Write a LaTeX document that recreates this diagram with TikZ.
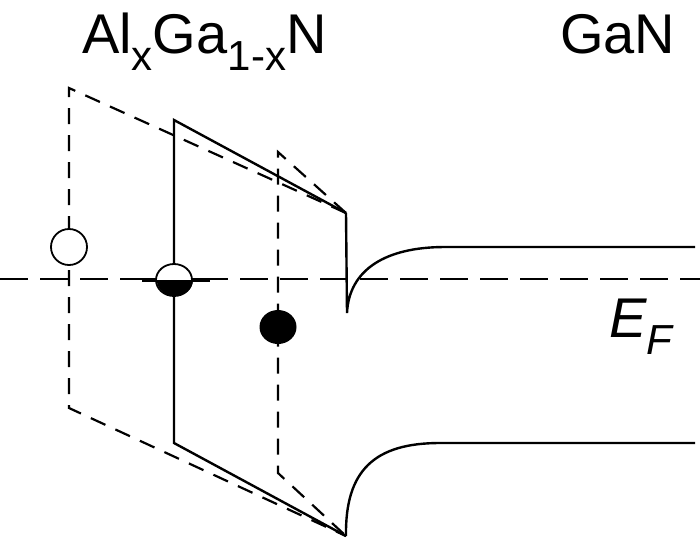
\documentclass[tikz,border=0pt]{standalone}
\usepackage{fontspec}
\setmainfont{Liberation Sans}
\usetikzlibrary{shapes.geometric}
\begin{document}
\begin{tikzpicture}[x=1pt,y=-1pt,
  solidband/.style={line width=2.4pt,line join=miter},
  dashband/.style={line width=2.2pt,dash pattern=on 16pt off 11pt},
  fermi/.style={line width=2pt,dash pattern=on 28pt off 12pt},
  lbl/.style={inner sep=0pt,font=\fontsize{56}{62}\selectfont}]
\useasboundingbox (0,0) rectangle (700,542);
% coordinates
\coordinate (tip) at (346,213);
\coordinate (bot) at (346,536);
\coordinate (aT) at (69,88);
\coordinate (aB) at (69,408);
\coordinate (bT) at (174,120);
\coordinate (bB) at (174,443);
\coordinate (cT) at (278,152);
\coordinate (cB) at (278,473);
\coordinate (cusp) at (347,313);
\coordinate (cbR) at (695,247);
\coordinate (vbR) at (695,443);
\coordinate (fL) at (0,279);
\coordinate (fR) at (700,279);
\coordinate (barL) at (142,280);
\coordinate (barR) at (210,280);
% Fermi level
\draw[fermi] (fL) -- (fR);
% dashed boxes
\draw[dashband] (tip) -- (aT) -- (aB) -- (bot);
\draw[dashband] (tip) -- (cT) -- (cB) -- (bot);
% solid box
\draw[solidband] (tip) -- (bT) -- (bB) -- (bot);
% interface and GaN bands
\draw[solidband] (tip) -- (cusp) .. controls (349,270) and (385,247) .. (445,247) -- (cbR);
\draw[solidband] (bot) .. controls (345,470) and (375,443) .. (440,443) -- (vbR);
% carriers
\node[circle,draw,line width=1.8pt,fill=white,minimum size=36pt,inner sep=0pt] (hole) at (69,247) {};
\draw[line width=4pt] (barL) -- (barR);
\node[ellipse,draw,line width=1.8pt,fill=white,minimum width=36pt,minimum height=32pt,inner sep=0pt] (half) at (174,280) {};
\fill[black] (half.east) arc[start angle=0,end angle=-180,x radius=18pt,y radius=16pt] -- cycle;
\node[ellipse,fill=black,minimum width=37pt,minimum height=34pt,inner sep=0pt] (elec) at (278,327) {};
% labels
\node[lbl,anchor=base west] (al) at (82,53) {Al\raisebox{-17pt}{\fontsize{42}{46}\selectfont x}Ga\raisebox{-17pt}{\fontsize{42}{46}\selectfont 1-x}N};
\node[lbl,anchor=base west] (gan) at (560,53) {GaN};
\node[lbl,anchor=base west] (ef) at (609,337) {\itshape E\raisebox{-17pt}{\fontsize{42}{46}\selectfont F}};
\end{tikzpicture}
\end{document}
